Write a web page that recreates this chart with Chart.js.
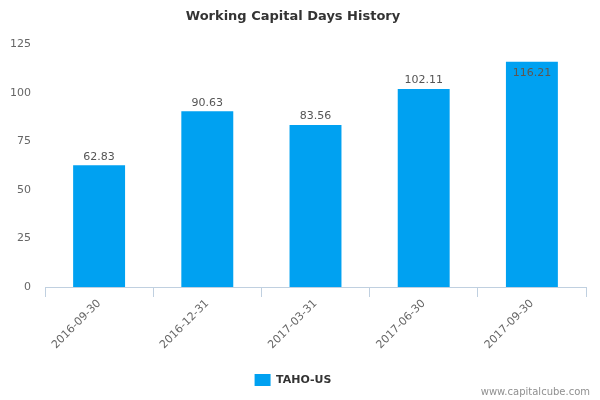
<!DOCTYPE html>
<html>
<head>
<meta charset="utf-8">
<script src="https://cdn.jsdelivr.net/npm/chart.js@4/dist/chart.umd.min.js"></script>
<style>
  html, body { margin: 0; padding: 0; background: #fff; }
  #wrap { width: 600px; height: 400px; }
</style>
</head>
<body>
<div id="wrap"><canvas id="chart" width="600" height="400"></canvas></div>
<script>
// chart data
const categories = ['2016-09-30', '2016-12-31', '2017-03-31', '2017-06-30', '2017-09-30'];
const seriesName = 'TAHO-US';
const seriesValues = [62.83, 90.63, 83.56, 102.11, 116.21];
const yTicks = [0, 25, 50, 75, 100, 125];

const FONT = '"DejaVu Sans", Verdana, sans-serif';

// value labels over each bar (inside when it would hit the top)
const barLabels = {
  id: 'barLabels',
  afterDatasetsDraw(chart) {
    const ctx = chart.ctx;
    const meta = chart.getDatasetMeta(0);
    ctx.save();
    ctx.font = '11px ' + FONT;
    ctx.textAlign = 'center';
    ctx.textBaseline = 'bottom';
    meta.data.forEach((bar, i) => {
      const text = seriesValues[i].toFixed(2);
      if (bar.y - 22 < chart.chartArea.top) {
        ctx.fillStyle = '#5e5650';
        ctx.fillText(text, bar.x, bar.y + 17);
      } else {
        ctx.fillStyle = '#555555';
        ctx.fillText(text, bar.x, bar.y - 3);
      }
    });
    ctx.restore();
  }
};

// site credit, bottom right
const credit = {
  id: 'credit',
  afterDraw(chart) {
    const ctx = chart.ctx;
    ctx.save();
    ctx.font = '10px ' + FONT;
    ctx.fillStyle = '#909090';
    ctx.textAlign = 'right';
    ctx.textBaseline = 'middle';
    ctx.fillText('www.capitalcube.com', 590, 392);
    ctx.restore();
  }
};

new Chart(document.getElementById('chart'), {
  type: 'bar',
  data: {
    labels: categories,
    datasets: [{
      label: seriesName,
      data: seriesValues,
      backgroundColor: '#00a1f1',
      borderWidth: 0,
      categoryPercentage: 0.96,
      barPercentage: 0.5
    }]
  },
  options: {
    responsive: false,
    animation: false,
    layout: { padding: { left: 0, right: 14, top: 0, bottom: 4 } },
    plugins: {
      title: {
        display: true,
        text: 'Working Capital Days History',
        color: '#333333',
        font: { family: FONT, size: 13, weight: 'bold' },
        padding: { top: 9, bottom: 20 }
      },
      legend: {
        position: 'bottom',
        labels: {
          boxWidth: 16,
          boxHeight: 12,
          color: '#333333',
          font: { family: FONT, size: 11, weight: 'bold' },
          padding: 10
        }
      },
      tooltip: { enabled: false }
    },
    scales: {
      x: {
        offset: true,
        border: { display: true, color: '#c0d0e0', width: 1 },
        grid: {
          offset: true,
          drawOnChartArea: false,
          drawTicks: true,
          tickLength: 10,
          color: '#c0d0e0'
        },
        ticks: {
          color: '#666666',
          font: { family: FONT, size: 11 },
          minRotation: 45,
          maxRotation: 45,
          padding: 0
        },
        afterFit(scale) { scale.height = 77; }
      },
      y: {
        min: 0,
        max: 125,
        border: { display: false },
        grid: { display: false },
        afterBuildTicks(scale) { scale.ticks = yTicks.map(v => ({ value: v })); },
        ticks: {
          color: '#666666',
          font: { family: FONT, size: 11 },
          padding: 6
        },
        afterFit(scale) { scale.width = 45; }
      }
    }
  },
  plugins: [barLabels, credit]
});
</script>
</body>
</html>
